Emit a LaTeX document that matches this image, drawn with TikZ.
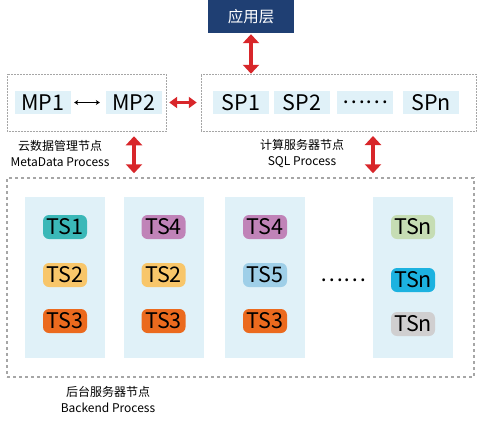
\documentclass[tikz,border=0pt]{standalone}
\usepackage{fontspec}
\setmainfont{Noto Sans CJK SC}
\usepackage{tikz}
\usetikzlibrary{arrows.meta}
\definecolor{appblue}{HTML}{1F3F73}
\definecolor{cellblue}{HTML}{E0F1F8}
\definecolor{linkred}{HTML}{D8262A}
\definecolor{boxgray}{HTML}{A6A6A6}
\definecolor{tsteal}{HTML}{3BB8B8}
\definecolor{tsyellow}{HTML}{F8C66A}
\definecolor{tsorange}{HTML}{EB6A1E}
\definecolor{tspurple}{HTML}{C083B8}
\definecolor{tslight}{HTML}{9FCFE8}
\definecolor{tsgreen}{HTML}{C6DDB4}
\definecolor{tscyan}{HTML}{1CB2E0}
\definecolor{tsgray}{HTML}{D0CFD0}

\begin{document}
\begin{tikzpicture}[x=1pt,y=-1pt]
\tikzset{
  cell/.style={fill=cellblue,minimum width=56pt,minimum height=23pt,inner sep=0pt,font=\fontsize{21.5}{21.5}\selectfont},
  group/.style={draw=boxgray,densely dotted,line width=0.5pt,inner sep=0pt},
  column/.style={fill=cellblue,minimum width=80pt,minimum height=161pt,inner sep=0pt},
  pill/.style={rounded corners=6pt,minimum width=44pt,minimum height=24pt,inner sep=0pt,font=\fontsize{21.5}{21.5}\selectfont},
  redlink/.style={draw=linkred,line width=3pt,{Triangle[width=11pt,length=8pt]}-{Triangle[width=11pt,length=8pt]}},
  redvlink/.style={draw=linkred,line width=4pt,{Triangle[width=16pt,length=9pt]}-{Triangle[width=16pt,length=9pt]}},
  blacklink/.style={draw=black,line width=1.2pt,{Stealth[width=5pt,length=4pt]}-{Stealth[width=5pt,length=4pt]}},
  caption/.style={align=center,font=\fontsize{12}{15.5}\selectfont}
}
\useasboundingbox (0,0) rectangle (477,424);

\node (app) at (251,16.5) [fill=appblue,minimum width=86pt,minimum height=33pt,inner sep=0pt,text=white,font=\fontsize{15.5}{15.5}\selectfont] {应用层};

\node (mpbox) at (86.5,102.5) [group,minimum width=159pt,minimum height=57pt] {};
\node (spbox) at (338.5,102.5) [group,minimum width=275pt,minimum height=57pt] {};

\node (mp1) at (43,102.5) [cell] {MP1};
\node (mp2) at (134,102.5) [cell] {MP2};
\node (sp1) at (241,102.5) [cell] {SP1};
\node (sp2) at (302,102.5) [cell] {SP2};
\node (spdots) at (365,102.5) [cell] {……};
\node (spn) at (431,102.5) [cell] {SPn};

\node (mplabel) at (60,153.5) [caption] {云数据管理节点\\MetaData Process};
\node (splabel) at (302,153.5) [caption] {计算服务器节点\\SQL Process};

\node (backend) at (240.5,277.5) [draw=boxgray,dashed,dash pattern=on 3pt off 3pt,line width=1.5pt,minimum width=467pt,minimum height=199pt,inner sep=0pt] {};
\node (bplabel) at (108,399.5) [caption] {后台服务器节点\\Backend Process};

\node (col1) at (65,277.5) [column] {};
\node (col2) at (163.5,277.5) [column] {};
\node (col3) at (265,277.5) [column] {};
\node (col4) at (412.5,277.5) [column] {};

\node (ts1) at (65,227) [pill,fill=tsteal] {TS1};
\node (ts2) at (65,275) [pill,fill=tsyellow] {TS2};
\node (ts3) at (65,321) [pill,fill=tsorange] {TS3};
\node (ts4) at (163.5,227) [pill,fill=tspurple] {TS4};
\node (ts2b) at (163.5,275) [pill,fill=tsyellow] {TS2};
\node (ts3b) at (163.5,321) [pill,fill=tsorange] {TS3};
\node (ts4b) at (265,227) [pill,fill=tspurple] {TS4};
\node (ts5) at (265,275) [pill,fill=tslight] {TS5};
\node (ts3c) at (265,321) [pill,fill=tsorange] {TS3};
\node (tsn1) at (413,227) [pill,fill=tsgreen] {TSn};
\node (tsn2) at (413,280) [pill,fill=tscyan] {TSn};
\node (tsn3) at (413,324) [pill,fill=tsgray] {TSn};
\node (tsdots) at (343,280) [font=\fontsize{21.5}{21.5}\selectfont] {……};

\coordinate (sqlbot) at (373,131);

\path
(mp1) edge[blacklink,shorten <=3pt,shorten >=6pt] (mp2)
(mp2) edge[redlink,shorten <=7pt,shorten >=4pt] (spbox)
(app) edge[redvlink,shorten <=1pt,shorten >=0pt] (app |- spbox.north)
(mp2 |- mpbox.south) edge[redvlink,shorten <=5pt,shorten >=4pt] (mp2 |- backend.north)
(sqlbot) edge[redvlink,shorten <=5pt,shorten >=4pt] (sqlbot |- backend.north);
\end{tikzpicture}
\end{document}
